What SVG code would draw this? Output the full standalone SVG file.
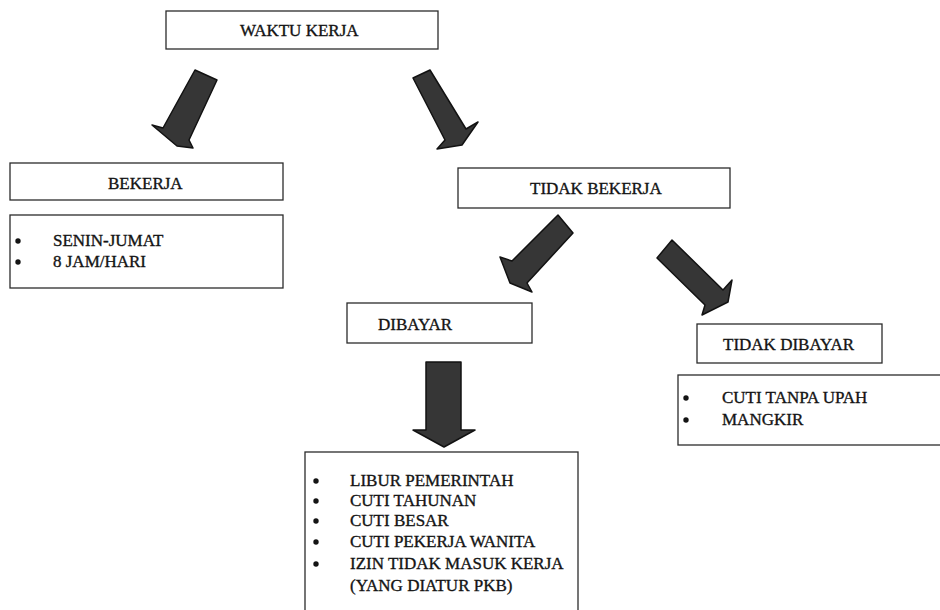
<svg xmlns="http://www.w3.org/2000/svg" width="940" height="610" viewBox="0 0 940 610">
  <style>
    .box { fill: #ffffff; stroke: #2b2b2b; stroke-width: 1.3; }
    .t { font-family: "Liberation Serif", "Times New Roman", serif; font-size: 17px; fill: #141414; stroke: #141414; stroke-width: 0.35; }
    .dot { fill: #141414; }
    .arrow { fill: #363636; stroke: #121212; stroke-width: 1.5; stroke-linejoin: round; }
  </style>
  <defs>
    <circle id="bullet" class="dot" r="2.7"/>
  </defs>
  <rect width="940" height="610" fill="#ffffff"/>

  <!-- block arrows between the levels -->
  <g id="connectors">
    <polygon class="arrow" points="195,70 217,80 189,140 193,148 177,146 152,125 163,128"/>
    <polygon class="arrow" points="413,78 430,70 466,129 478,122 462,145 437,149 445,140"/>
    <polygon class="arrow" points="558,215 573,233 527,283 532,292 510,283 500,257 512,261"/>
    <polygon class="arrow" points="657,258 672,240 723,290 732,280 728,302 702,315 705,305"/>
    <polygon class="arrow" points="426,362 461,362 461,430 475,430 444,447 413,430 426,430"/>
  </g>

  <g id="waktu-kerja">
    <rect class="box" x="166" y="11" width="272" height="38"/>
    <text class="t" x="240" y="36">WAKTU KERJA</text>
  </g>

  <g id="bekerja">
    <rect class="box" x="10" y="163" width="273" height="37"/>
    <text class="t" x="108" y="189">BEKERJA</text>
  </g>

  <g id="bekerja-list">
    <rect class="box" x="10" y="215" width="273" height="73"/>
    <use href="#bullet" x="18" y="241"/>
    <text class="t" x="53" y="246">SENIN-JUMAT</text>
    <use href="#bullet" x="18" y="262"/>
    <text class="t" x="53" y="267">8 JAM/HARI</text>
  </g>

  <g id="tidak-bekerja">
    <rect class="box" x="458" y="168" width="272" height="40"/>
    <text class="t" x="530" y="194">TIDAK BEKERJA</text>
  </g>

  <g id="dibayar">
    <rect class="box" x="347" y="303" width="185" height="40"/>
    <text class="t" x="378" y="330">DIBAYAR</text>
  </g>

  <g id="tidak-dibayar">
    <rect class="box" x="697" y="324" width="185" height="39"/>
    <text class="t" x="723" y="350">TIDAK DIBAYAR</text>
  </g>

  <g id="tidak-dibayar-list">
    <rect class="box" x="678" y="375" width="270" height="70"/>
    <use href="#bullet" x="686" y="398"/>
    <text class="t" x="722" y="403">CUTI TANPA UPAH</text>
    <use href="#bullet" x="686" y="420"/>
    <text class="t" x="722" y="425">MANGKIR</text>
  </g>

  <g id="dibayar-list">
    <rect class="box" x="305" y="452" width="273" height="170"/>
    <use href="#bullet" x="316" y="481"/>
    <text class="t" x="350" y="486">LIBUR PEMERINTAH</text>
    <use href="#bullet" x="316" y="501"/>
    <text class="t" x="350" y="506">CUTI TAHUNAN</text>
    <use href="#bullet" x="316" y="521"/>
    <text class="t" x="350" y="526">CUTI BESAR</text>
    <use href="#bullet" x="316" y="542"/>
    <text class="t" x="350" y="547">CUTI PEKERJA WANITA</text>
    <use href="#bullet" x="316" y="564"/>
    <text class="t" x="350" y="569">IZIN TIDAK MASUK KERJA</text>
    <text class="t" x="350" y="591">(YANG DIATUR PKB)</text>
  </g>
</svg>
